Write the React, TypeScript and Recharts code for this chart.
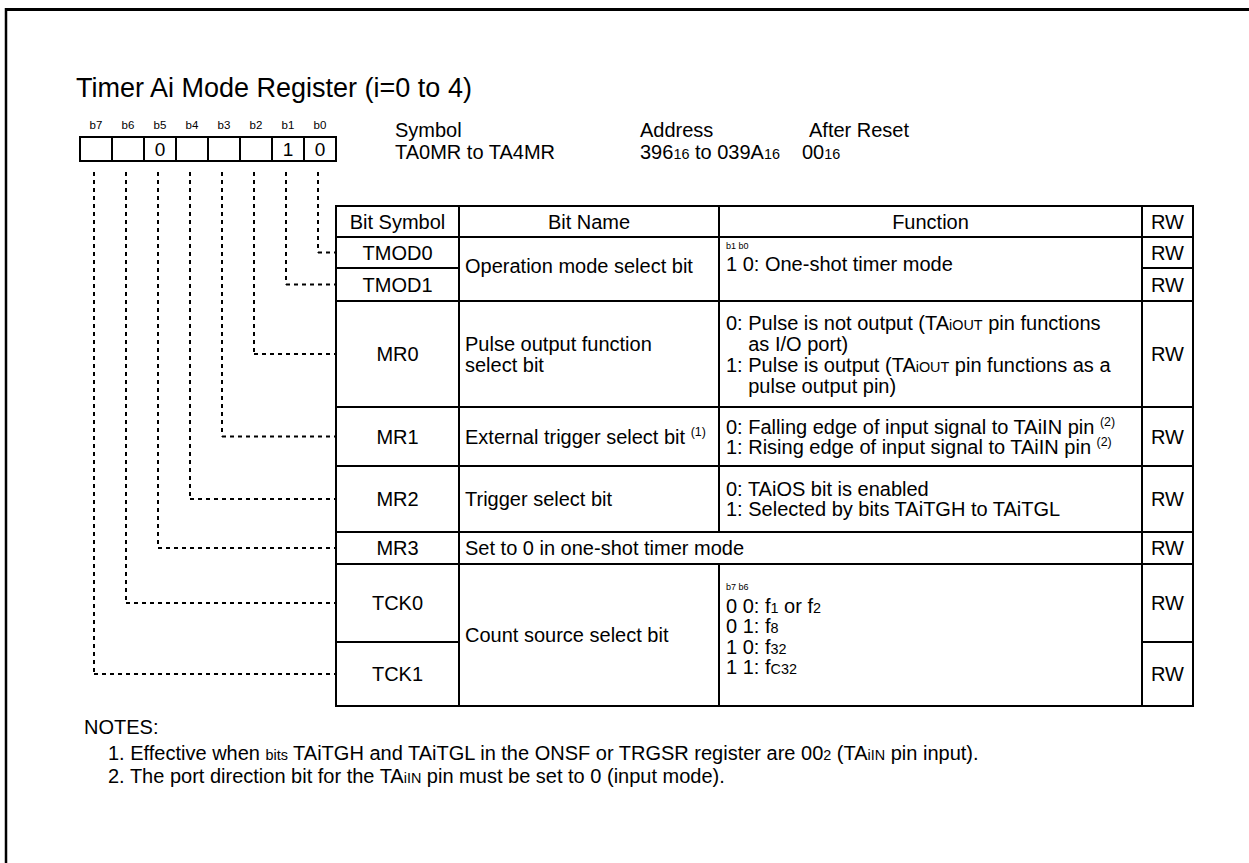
import { ComposedChart, ReferenceLine, Scatter, XAxis, YAxis } from "recharts";

const W = 1249;
const H = 863;
const FONT = "'Liberation Sans', Arial, sans-serif";

// register content
const title = "Timer Ai Mode Register (i=0 to 4)";
const bitLabels = ["b7", "b6", "b5", "b4", "b3", "b2", "b1", "b0"];
const bitValues = ["", "", "0", "", "", "", "1", "0"];
const infoHeads = ["Symbol", "Address", "After Reset"];
const infoValues = ["TA0MR to TA4MR", "396[16] to 039A[16]", "00[16]"];
const columnHeads = ["Bit Symbol", "Bit Name", "Function", "RW"];
const bitSymbols = ["TMOD0", "TMOD1", "MR0", "MR1", "MR2", "MR3", "TCK0", "TCK1"];
const rwValues = ["RW", "RW", "RW", "RW", "RW", "RW", "RW", "RW"];

// groups of symbol rows sharing a Bit Name / Function cell
const groupRows = [[0, 1], [2], [3], [4], [5], [6, 7]];
const bitNames = [
  ["Operation mode select bit"],
  ["Pulse output function", "select bit"],
  ["External trigger select bit {(1)}"],
  ["Trigger select bit"],
  ["Set to 0 in one-shot timer mode"],
  ["Count source select bit"]
];
const functionHints = ["b1 b0", "", "", "", "", "b7 b6"];
const functionLines = [
  ["1 0: One-shot timer mode"],
  [
    "0: Pulse is not output (TA[iOUT] pin functions",
    "    as I/O port)",
    "1: Pulse is output (TA[iOUT] pin functions as a",
    "    pulse output pin)"
  ],
  [
    "0: Falling edge of input signal to TAiIN pin {(2)}",
    "1: Rising edge of input signal to TAiIN pin {(2)}"
  ],
  ["0: TAiOS bit is enabled", "1: Selected by bits TAiTGH to TAiTGL"],
  [],
  ["0 0: f[1] or f[2]", "0 1: f[8]", "1 0: f[32]", "1 1: f[C32]"]
];
const notesHead = "NOTES:";
const notes = [
  "1. Effective when [bits] TAiTGH and TAiTGL in the ONSF or TRGSR register are 00[2] (TA[iIN] pin input).",
  "2. The port direction bit for the TA[iIN] pin must be set to 0 (input mode)."
];

// layout
const boxLeft = 80;
const boxW = 32;
const boxTop = 137;
const boxBottom = 161;
const cols = [336, 459, 719, 1142, 1193];
const rowEdges = [206, 237, 268, 301, 407, 466, 532, 564, 642, 706];
const lineSteps = [0, 21, 20, 20, 0, 20.5];
const TXT = 20;

type TextItem = { x: number; y: number; t: string; size: number; anchor: string };
type Seg = { x1: number; y1: number; x2: number; y2: number; w: number; dash?: string };

const rowTop = (r: number) => rowEdges[r + 1];
const rowBot = (r: number) => rowEdges[r + 2];
const rowMid = (r: number) => (rowTop(r) + rowBot(r)) / 2;

function buildTexts(): TextItem[] {
  const out: TextItem[] = [];
  out.push({ x: 76, y: 87, t: title, size: 27, anchor: "start" });
  bitLabels.forEach((b, i) => {
    const cx = boxLeft + boxW * i + boxW / 2;
    out.push({ x: cx, y: 125, t: b, size: 11.5, anchor: "middle" });
    if (bitValues[i]) out.push({ x: cx, y: (boxTop + boxBottom) / 2, t: bitValues[i], size: 19, anchor: "middle" });
  });
  const infoX = [395, 640, 809];
  infoHeads.forEach((h, i) => out.push({ x: infoX[i], y: 130, t: h, size: TXT, anchor: "start" }));
  const valX = [395, 640, 802];
  infoValues.forEach((v, i) => out.push({ x: valX[i], y: 152, t: v, size: TXT, anchor: "start" }));
  const headMid = (rowEdges[0] + rowEdges[1]) / 2;
  columnHeads.forEach((h, i) => {
    out.push({ x: (cols[i] + cols[i + 1]) / 2, y: headMid, t: h, size: TXT, anchor: "middle" });
  });
  bitSymbols.forEach((s, r) => {
    out.push({ x: (cols[0] + cols[1]) / 2, y: rowMid(r), t: s, size: TXT, anchor: "middle" });
    out.push({ x: (cols[3] + cols[4]) / 2, y: rowMid(r), t: rwValues[r], size: TXT, anchor: "middle" });
  });
  groupRows.forEach((rows, g) => {
    const top = rowTop(rows[0]);
    const bot = rowBot(rows[rows.length - 1]);
    const mid = (top + bot) / 2;
    const names = bitNames[g];
    const nameShift = g === 0 ? -3 : 0;
    names.forEach((n, k) => {
      out.push({
        x: cols[1] + 6,
        y: mid + nameShift + (k - (names.length - 1) / 2) * 21,
        t: n,
        size: TXT,
        anchor: "start"
      });
    });
    const lines = functionLines[g];
    const hint = functionHints[g];
    const step = lineSteps[g];
    const hintGap = 18.5;
    const total = (lines.length - 1) * step + (hint ? hintGap : 0);
    let y = mid - total / 2 + (hint ? (g === 0 ? -14 : -8) : 0);
    if (hint) {
      out.push({ x: cols[2] + 7, y, t: hint, size: 9, anchor: "start" });
      y += hintGap;
    }
    lines.forEach((l) => {
      out.push({ x: cols[2] + 7, y, t: l, size: TXT, anchor: "start" });
      y += step;
    });
  });
  out.push({ x: 84, y: 727, t: notesHead, size: TXT, anchor: "start" });
  notes.forEach((n, i) => out.push({ x: 108, y: 753 + i * 23, t: n, size: TXT, anchor: "start" }));
  return out;
}

function buildSegments(): Seg[] {
  const s: Seg[] = [];
  // page frame
  s.push({ x1: 5, y1: 9.5, x2: W, y2: 9.5, w: 3 });
  s.push({ x1: 6, y1: 8, x2: 6, y2: H, w: 2.5 });
  // bit boxes
  s.push({ x1: boxLeft - 1, y1: boxTop, x2: boxLeft + boxW * 8 + 1, y2: boxTop, w: 2 });
  s.push({ x1: boxLeft - 1, y1: boxBottom, x2: boxLeft + boxW * 8 + 1, y2: boxBottom, w: 2 });
  for (let i = 0; i <= 8; i++) {
    s.push({ x1: boxLeft + boxW * i, y1: boxTop, x2: boxLeft + boxW * i, y2: boxBottom, w: 2 });
  }
  // table outline
  const top = rowEdges[0];
  const bot = rowEdges[rowEdges.length - 1];
  s.push({ x1: cols[0] - 1, y1: top, x2: cols[4] + 1, y2: top, w: 2 });
  s.push({ x1: cols[0] - 1, y1: bot, x2: cols[4] + 1, y2: bot, w: 2 });
  s.push({ x1: cols[0], y1: top, x2: cols[0], y2: bot, w: 2 });
  s.push({ x1: cols[4], y1: top, x2: cols[4], y2: bot, w: 2 });
  // inner horizontals
  for (let e = 1; e < rowEdges.length - 1; e++) {
    const y = rowEdges[e];
    const split = e === 2 || e === 8; // TMOD0/TMOD1 and TCK0/TCK1
    if (split) {
      s.push({ x1: cols[0], y1: y, x2: cols[1], y2: y, w: 2 });
      s.push({ x1: cols[3], y1: y, x2: cols[4], y2: y, w: 2 });
    } else {
      s.push({ x1: cols[0], y1: y, x2: cols[4], y2: y, w: 2 });
    }
  }
  // inner verticals
  s.push({ x1: cols[1], y1: top, x2: cols[1], y2: bot, w: 2 });
  s.push({ x1: cols[3], y1: top, x2: cols[3], y2: bot, w: 2 });
  s.push({ x1: cols[2], y1: top, x2: cols[2], y2: rowTop(5), w: 2 });
  s.push({ x1: cols[2], y1: rowBot(5), x2: cols[2], y2: bot, w: 2 });
  // dashed leaders from each bit to its row
  bitLabels.forEach((_, i) => {
    const x = boxLeft + boxW * i + boxW / 2 - 2;
    const r = 7 - i;
    const y = rowMid(r);
    s.push({ x1: x, y1: boxBottom + 11, x2: x, y2: y, w: 2, dash: "4 4" });
    s.push({ x1: x, y1: y, x2: cols[0], y2: y, w: 2, dash: "4 4" });
  });
  return s;
}

function RichText(props: any) {
  const { cx, cy, payload } = props;
  if (!payload) return null;
  const { t, size, anchor } = payload as TextItem;
  const parts = t.split(/(\[[^\]]*\]|\{[^}]*\})/).filter((p) => p.length > 0);
  let shift = 0;
  const spans = parts.map((p, i) => {
    let fs = size;
    let target = 0;
    let txt = p;
    if (p.startsWith("[")) {
      fs = size * 0.72;
      txt = p.slice(1, -1);
    } else if (p.startsWith("{")) {
      fs = size * 0.62;
      target = -size * 0.4;
      txt = p.slice(1, -1);
    }
    const dy = target - shift;
    shift = target;
    return (
      <tspan key={i} fontSize={fs} dy={dy}>
        {txt}
      </tspan>
    );
  });
  return (
    <text
      x={cx}
      y={cy + size * 0.36}
      fontSize={size}
      fontFamily={FONT}
      textAnchor={anchor as any}
      fill="#000"
      style={{ whiteSpace: "pre" }}
    >
      {spans}
    </text>
  );
}

export default function App() {
  const texts = buildTexts();
  const segs = buildSegments();
  return (
    <div style={{ width: W, height: H, background: "#fff", position: "absolute", left: 0, top: 0 }}>
      <style>{"body{margin:0;background:#fff}"}</style>
      <ComposedChart width={W} height={H} margin={{ top: 0, right: 0, bottom: 0, left: 0 }}>
        <XAxis type="number" dataKey="x" domain={[0, W]} hide allowDataOverflow />
        <YAxis type="number" dataKey="y" domain={[0, H]} reversed hide allowDataOverflow />
        {segs.map((g, i) => (
          <ReferenceLine
            key={i}
            segment={[
              { x: g.x1, y: g.y1 },
              { x: g.x2, y: g.y2 }
            ]}
            stroke="#000"
            strokeWidth={g.w}
            strokeDasharray={g.dash}
            ifOverflow="visible"
          />
        ))}
        <Scatter data={texts} isAnimationActive={false} shape={(p: any) => <RichText {...p} />} />
      </ComposedChart>
    </div>
  );
}
